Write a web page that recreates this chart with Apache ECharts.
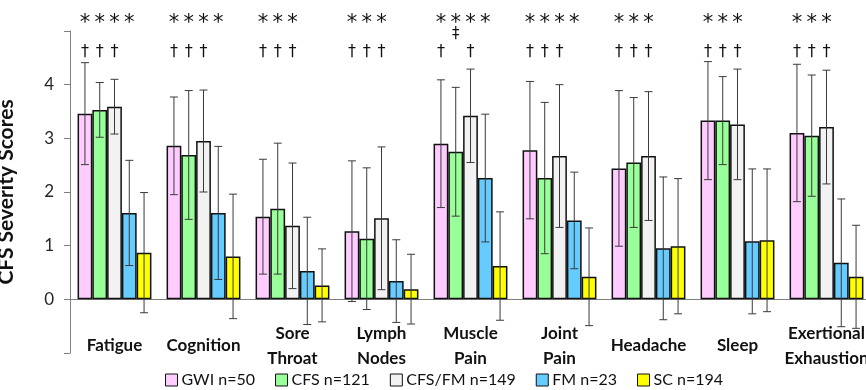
<!DOCTYPE html>
<html>
<head>
<meta charset="utf-8">
<script src="https://cdn.jsdelivr.net/npm/echarts@6/dist/echarts.min.js"></script>
<style>html,body{margin:0;padding:0;background:#fff}#chart{width:866px;height:390px}</style>
</head>
<body>
<div id="chart"></div>
<script>
const categories = ['Fatigue','Cognition','Sore\nThroat','Lymph\nNodes','Muscle\nPain','Joint\nPain','Headache','Sleep','Exertional\nExhaustion'];
const seriesNames = ['GWI n=50','CFS n=121','CFS/FM n=149','FM n=23','SC n=194'];
const seriesColors = ['#FFCCFF','#99FF99','#F2F2F2','#66CCFF','#FFFF00'];

const gwiMean = [3.46, 2.86, 1.54, 1.27, 2.90, 2.78, 2.44, 3.33, 3.10];
const gwiSD   = [0.95, 0.91, 1.07, 1.31, 1.19, 1.28, 1.45, 1.10, 1.28];
const cfsMean = [3.53, 2.69, 1.69, 1.13, 2.75, 2.26, 2.55, 3.33, 3.05];
const cfsSD   = [0.51, 1.20, 1.22, 1.32, 1.20, 1.41, 1.21, 0.82, 1.13];
const cfsfmMean = [3.59, 2.95, 1.37, 1.51, 3.42, 2.67, 2.67, 3.26, 3.21];
const cfsfmSD   = [0.51, 0.95, 1.17, 1.33, 0.87, 1.33, 1.20, 1.03, 1.06];
const fmMean = [1.61, 1.61, 0.53, 0.34, 2.26, 1.47, 0.95, 1.08, 0.68];
const fmSD   = [0.98, 1.24, 1.00, 0.77, 1.19, 0.90, 1.33, 1.35, 1.19];
const scMean = [0.87, 0.80, 0.26, 0.19, 0.62, 0.42, 0.99, 1.10, 0.42];
const scSD   = [1.12, 1.16, 0.68, 0.65, 1.01, 0.91, 1.26, 1.33, 0.96];

const yTickLabels = ['0','1','2','3','4'];

// significance marks: character i sits above bar i of the group
const asteriskMarks = ['****','****','***','***','****','****','***','***','***'];
const doubleDaggerMarks = ['','','','',' ‡','','','',''];
const daggerMarks = ['†††','†††','†††','†††','† †','†††','†††','†††','†††'];

const means = [gwiMean, cfsMean, cfsfmMean, fmMean, scMean];
const sds = [gwiSD, cfsSD, cfsfmSD, fmSD, scSD];
const NS = means.length;
const CAT_GAP = 0.17;

const errData = [];
means.forEach((m, s) => m.forEach((v, c) => errData.push([c, s, v - sds[s][c], v + sds[s][c]])));

const markRows = [
  {marks: asteriskMarks, level: 5.14, font: '21px "DejaVu Sans"'},
  {marks: doubleDaggerMarks, level: 4.94, font: '15px "DejaVu Sans"'},
  {marks: daggerMarks, level: 4.62, font: '16px "DejaVu Sans"'}
];
const markData = [];
markRows.forEach((row, r) => row.marks.forEach((str, c) => {
  for (let i = 0; i < str.length; i++) {
    if (str[i] !== ' ') markData.push({value: [c, i, r], sym: str[i]});
  }
}));

function barCenter(api, c, s) {
  const band = api.size([1, 0])[0];
  const bw = band * (1 - CAT_GAP) / NS;
  return api.coord([c, 0])[0] - NS * bw / 2 + (s + 0.5) * bw;
}

const chart = echarts.init(document.getElementById('chart'), null, {renderer: 'canvas'});
const fontFam = 'Lato, "Open Sans", sans-serif';

const barSeries = seriesNames.map((name, s) => ({
  name: name,
  type: 'bar',
  data: means[s],
  barGap: '0%',
  barCategoryGap: (CAT_GAP * 100) + '%',
  itemStyle: {color: seriesColors[s], borderColor: '#111', borderWidth: 1.5},
  emphasis: {disabled: true},
  z: 2
}));
barSeries[0].markLine = {
  silent: true, symbol: 'none', animation: false,
  label: {show: false},
  lineStyle: {color: '#7f7f7f', type: 'solid', width: 1},
  data: [{yAxis: 0}],
  z: 1
};

chart.setOption({
  animation: false,
  textStyle: {fontFamily: fontFam},
  grid: {left: 70, top: 31, width: 801, height: 322, containLabel: false, outerBoundsMode: 'none'},
  legend: {
    data: seriesNames,
    left: 165, top: 372, padding: 0,
    itemWidth: 12, itemHeight: 12, itemGap: 20, icon: 'rect',
    itemStyle: {borderColor: '#111', borderWidth: 1},
    textStyle: {fontSize: 16, color: '#111', fontFamily: fontFam, padding: [0, 0, 0, -1]}
  },
  xAxis: {
    type: 'category',
    data: categories,
    axisLine: {show: false, onZero: false},
    axisTick: {show: false},
    axisLabel: {interval: 0, margin: -7, verticalAlign: 'middle', fontSize: 17, fontWeight: 'bold', color: '#111', lineHeight: 25, fontFamily: fontFam}
  },
  yAxis: {
    type: 'value',
    min: -1, max: 5, interval: 1,
    name: 'CFS Severity Scores',
    nameLocation: 'middle', nameGap: 53, nameRotate: 90,
    nameTextStyle: {fontSize: 21, fontWeight: 'bold', color: '#111', fontFamily: fontFam},
    axisLine: {show: true, lineStyle: {color: '#7f7f7f', width: 1}},
    axisTick: {show: true, inside: false, length: 6, lineStyle: {color: '#7f7f7f'}},
    axisLabel: {
      margin: 16, fontSize: 17, color: '#262626', fontFamily: fontFam,
      formatter: v => { const i = yTickLabels.indexOf(String(v)); return i >= 0 ? yTickLabels[i] : ''; }
    },
    splitLine: {show: false}
  },
  series: barSeries.concat([
    {
      type: 'custom',
      name: 'err',
      data: errData,
      encode: {x: 0, y: [2, 3]},
      z: 5,
      silent: true,
      clip: false,
      renderItem: function (params, api) {
        const c = api.value(0), s = api.value(1);
        const x = barCenter(api, c, s);
        const y1 = api.coord([c, api.value(2)])[1];
        const y2 = api.coord([c, api.value(3)])[1];
        const cap = 4;
        const st = {stroke: '#3a3a3a', lineWidth: 1};
        return {type: 'group', children: [
          {type: 'line', shape: {x1: x, y1: y1, x2: x, y2: y2}, style: st},
          {type: 'line', shape: {x1: x - cap, y1: y1, x2: x + cap, y2: y1}, style: st},
          {type: 'line', shape: {x1: x - cap, y1: y2, x2: x + cap, y2: y2}, style: st}
        ]};
      }
    },
    {
      type: 'custom',
      name: 'marks',
      data: markData,
      encode: {x: 0},
      z: 6,
      silent: true,
      clip: false,
      renderItem: function (params, api) {
        const item = markData[params.dataIndex];
        const c = item.value[0], s = item.value[1], r = item.value[2];
        const row = markRows[r];
        const x = barCenter(api, c, s);
        const y = api.coord([c, row.level])[1];
        return {type: 'text', style: {text: item.sym, x: x, y: y, align: 'center', verticalAlign: 'middle', font: row.font, fill: '#111'}};
      }
    }
  ])
});
</script>
</body>
</html>
